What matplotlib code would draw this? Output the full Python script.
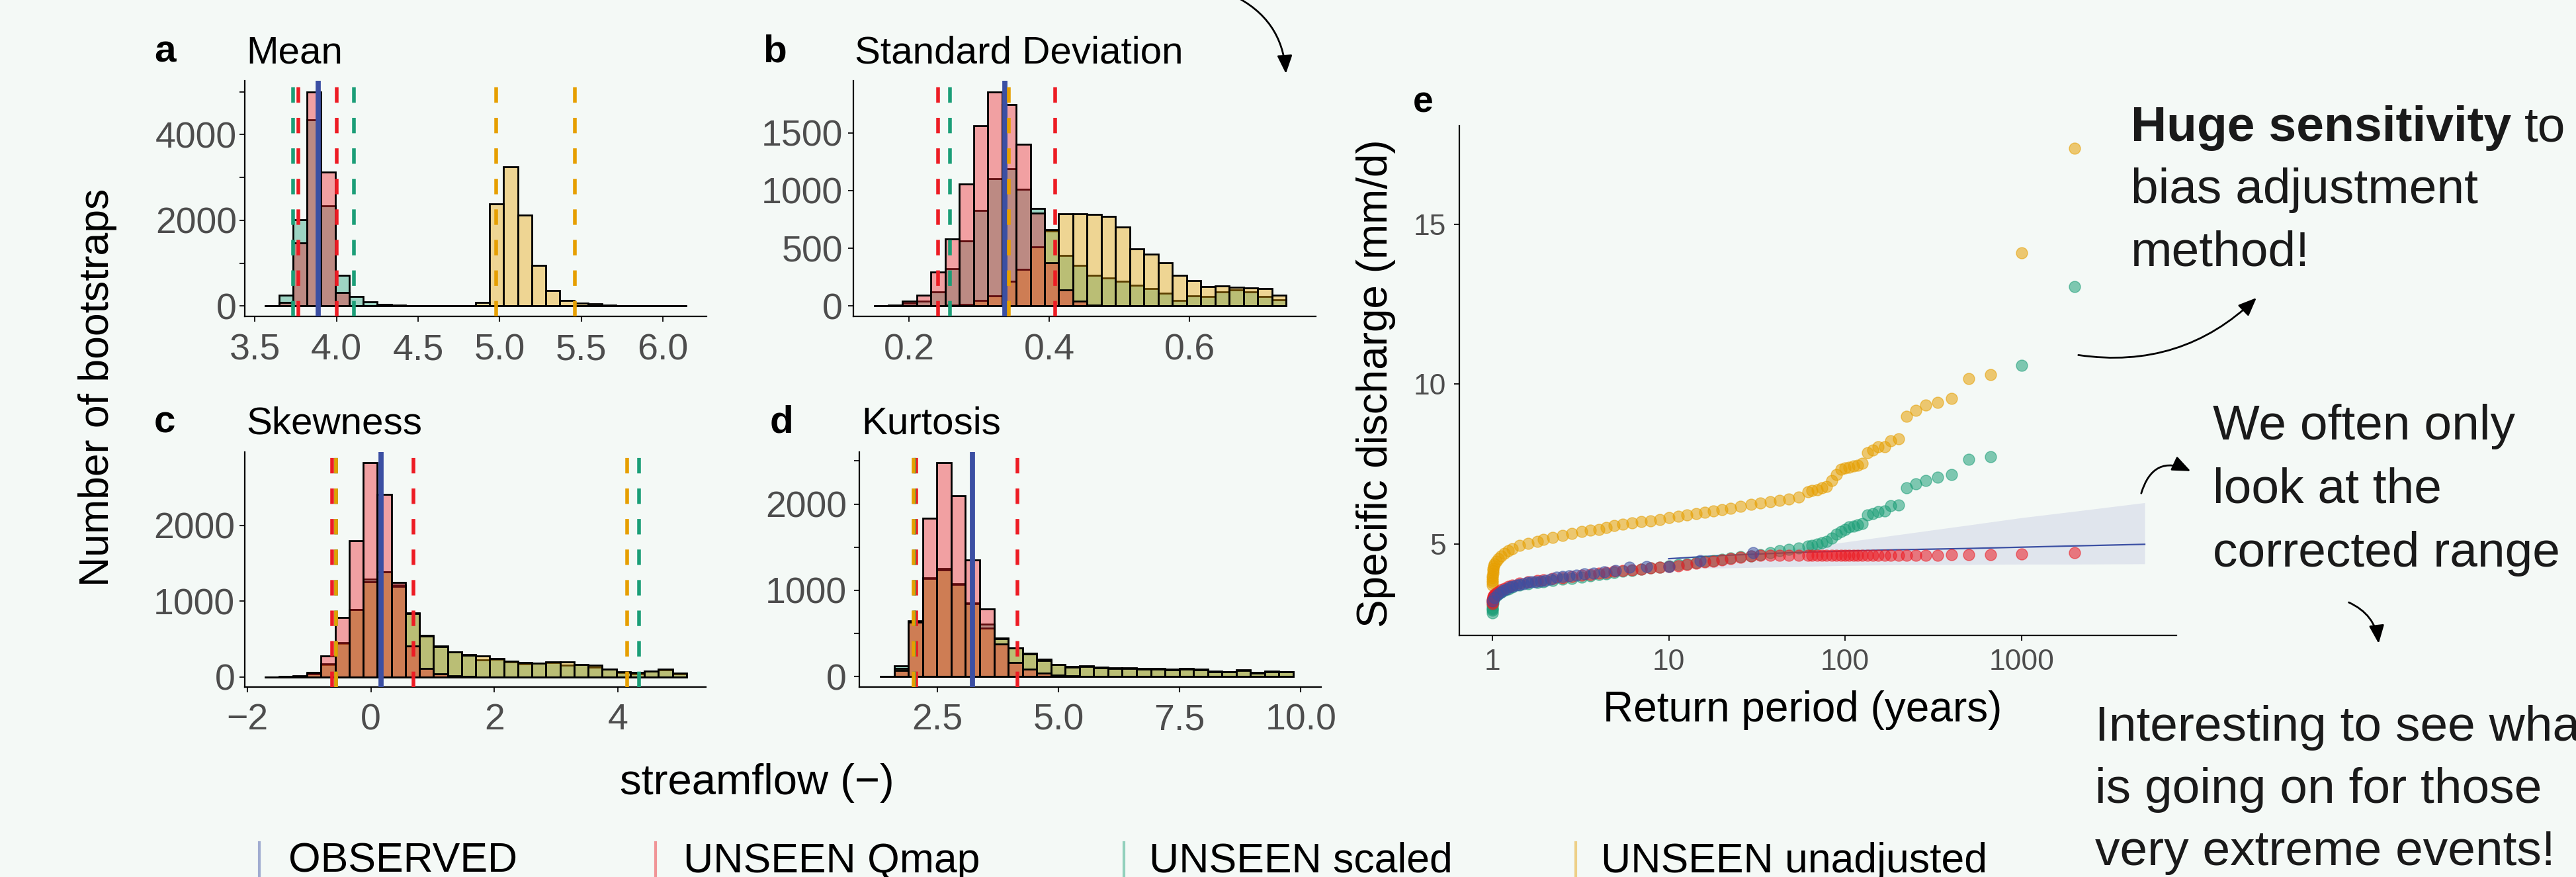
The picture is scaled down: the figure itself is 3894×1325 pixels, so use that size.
import numpy as np
import matplotlib
matplotlib.use('Agg')
import matplotlib.pyplot as plt
from matplotlib.colors import to_rgba
from matplotlib.lines import Line2D
from matplotlib.patches import FancyArrowPatch
from matplotlib.ticker import NullLocator

plt.rcParams['font.family'] = ['Liberation Sans', 'DejaVu Sans']

W, H = 3894, 1325
BG = '#f4f9f6'
GREY = '#4d4d4d'

C_OBS = '#3b4fa3'
C_QMAP = '#ed1c24'
C_SCALED = '#1b9e77'
C_UNADJ = '#e69f00'

# ---------------- histogram data (bootstrap counts per bin) ----------------
# a: mean
mean_start, mean_width = 3.561, 0.0861
mean_qmap = [0, 77, 1473, 4990, 3120, 309] + [0] * 24
mean_scaled = [0, 247, 2013, 4341, 2333, 721, 221, 98, 36, 15, 5] + [0] * 19
mean_unadj = [0] * 15 + [82, 2384, 3244, 2127, 942, 366, 134, 67, 46, 26, 10, 5, 3, 2, 1]
mean_obs = 3.887
mean_ci_qmap = [3.768, 4.001]
mean_ci_scaled = [3.734, 4.107]
mean_ci_unadj = [4.980, 5.461]

# b: standard deviation
sd_start, sd_width = 0.1503, 0.02024
sd_qmap = [0, 5, 40, 95, 296, 578, 1055, 1561, 1853, 1742, 1402, 803, 372, 139, 40, 10] + [0] * 13
sd_scaled = [0, 0, 25, 40, 120, 324, 563, 826, 1103, 1189, 1013, 845, 648, 435, 349, 267,
             240, 212, 177, 149, 111, 50, 86, 82, 124, 139, 124, 82, 53]
sd_unadj = [0, 0, 0, 0, 0, 5, 15, 50, 86, 216, 315, 511, 660, 798, 798, 792,
            775, 683, 492, 448, 372, 263, 219, 168, 174, 164, 158, 149, 95]
sd_obs = 0.3366
sd_ci_qmap = [0.2411, 0.4080]
sd_ci_scaled = [0.2584]
sd_ci_unadj = [0.3419]

# c: skewness
sk_start, sk_width = -1.717, 0.2276
sk_qmap = [0, 5, 15, 58, 282, 786, 1796, 2830, 2407, 1245, 408, 116, 44, 15, 5] + [0] * 15
sk_scaled = [0, 3, 10, 40, 170, 445, 895, 1290, 1385, 1210, 844, 553, 408, 335, 297,
             224, 238, 205, 175, 180, 195, 160, 165, 131, 105, 60, 45, 75, 100, 48]
sk_unadj = [0, 3, 10, 45, 175, 451, 888, 1260, 1391, 1200, 835, 545, 400, 330, 285,
            277, 242, 212, 195, 183, 198, 204, 169, 154, 108, 67, 58, 79, 102, 50]
sk_obs = 0.162
sk_ci_qmap = [-0.624, 0.693]
sk_ci_scaled = [-0.56, 4.338]
sk_ci_unadj = [-0.561, 4.150]

# d: kurtosis
ku_start, ku_width = 1.314, 0.2942
ku_qmap = [0, 72, 630, 1835, 2482, 2098, 1355, 787, 378, 166, 84, 38, 20, 8, 3] + [0] * 14
ku_scaled = [0, 123, 647, 1145, 1250, 1076, 856, 608, 447, 335, 271, 199, 143, 118, 128,
             110, 102, 102, 97, 92, 84, 97, 84, 64, 59, 77, 46, 64, 59]
ku_unadj = [0, 95, 640, 1140, 1235, 1070, 850, 562, 440, 330, 265, 190, 138, 110, 120,
            104, 96, 98, 90, 88, 78, 90, 80, 60, 55, 70, 42, 60, 55]
ku_obs = 3.221
ku_ci_qmap = [2.06, 4.155]
ku_ci_scaled = [2.016]
ku_ci_unadj = [2.01]

# ---------------- return period data (panel e) ----------------
rp_ens = [1.0005, 1.001, 1.0015, 1.002, 1.003, 1.005, 1.008, 1.012, 1.02, 1.03,
          1.05, 1.08, 1.12, 1.17, 1.23, 1.3, 1.43, 1.6, 1.8, 1.95,
          2.2, 2.5, 2.82, 3.2, 3.6, 4.0, 4.4, 4.91, 5.5, 6.2,
          7.0, 7.9, 8.9, 10, 11.3, 12.7, 14.3, 16, 17.9, 20,
          22.5, 25.5, 29.4, 33, 37.5, 42.5, 48, 54.4, 61.5, 65,
          69.6, 74, 78.7, 83.7, 89.1, 94.8, 100, 105.5, 111.4, 118,
          125.3, 133.7, 143.2, 154.2, 167, 182, 200.5, 223, 251, 286,
          334, 401, 501, 668, 1002, 2005]
q_unadj = [3.72, 3.80, 3.88, 3.95, 4.02, 4.10, 4.18, 4.25, 4.32, 4.38,
           4.48, 4.56, 4.64, 4.71, 4.80, 4.86, 4.96, 5.03, 5.10, 5.16,
           5.22, 5.28, 5.34, 5.40, 5.44, 5.47, 5.52, 5.58, 5.62, 5.66,
           5.70, 5.74, 5.78, 5.83, 5.87, 5.91, 5.96, 6.00, 6.05, 6.09,
           6.13, 6.18, 6.24, 6.29, 6.33, 6.37, 6.42, 6.48, 6.64, 6.68,
           6.70, 6.76, 6.80, 7.00, 7.18, 7.34, 7.38, 7.40, 7.45, 7.47,
           7.53, 7.85, 7.94, 8.04, 8.05, 8.24, 8.30, 9.00, 9.18, 9.34,
           9.44, 9.55, 10.18, 10.30, 14.11, 17.37]
q_scaled = [2.86, 2.95, 2.99, 3.03, 3.10, 3.17, 3.22, 3.27, 3.31, 3.35,
            3.40, 3.45, 3.50, 3.56, 3.61, 3.66, 3.72, 3.77, 3.81, 3.83,
            3.87, 3.91, 3.94, 3.98, 4.02, 4.05, 4.08, 4.12, 4.15, 4.19,
            4.22, 4.26, 4.29, 4.32, 4.36, 4.39, 4.43, 4.47, 4.50, 4.53,
            4.57, 4.61, 4.64, 4.68, 4.73, 4.80, 4.84, 4.88, 4.94, 4.97,
            5.00, 5.04, 5.10, 5.20, 5.31, 5.40, 5.47, 5.54, 5.57, 5.61,
            5.65, 5.92, 5.96, 6.01, 6.05, 6.20, 6.23, 6.76, 6.89, 7.00,
            7.10, 7.17, 7.65, 7.74, 10.59, 13.04]
q_qmap = [3.15, 3.19, 3.22, 3.25, 3.28, 3.31, 3.34, 3.37, 3.40, 3.43,
          3.47, 3.52, 3.58, 3.63, 3.68, 3.72, 3.78, 3.83, 3.87, 3.89,
          3.93, 3.96, 4.00, 4.03, 4.06, 4.09, 4.12, 4.15, 4.18, 4.21,
          4.23, 4.26, 4.28, 4.30, 4.33, 4.36, 4.40, 4.44, 4.47, 4.52,
          4.56, 4.60, 4.63, 4.66, 4.66, 4.66, 4.66, 4.66, 4.66, 4.66,
          4.66, 4.66, 4.66, 4.66, 4.66, 4.66, 4.66, 4.66, 4.66, 4.66,
          4.66, 4.66, 4.66, 4.66, 4.66, 4.66, 4.66, 4.66, 4.66, 4.66,
          4.66, 4.67, 4.67, 4.67, 4.70, 4.73]
rp_obs = [30, 15, 10, 7.5, 6, 5, 4.29, 3.75, 3.33, 3, 2.73, 2.5, 2.31, 2.14, 2,
          1.875, 1.76, 1.67, 1.58, 1.5, 1.43, 1.36, 1.30, 1.25, 1.2, 1.15, 1.11, 1.07, 1.03, 1.0]
q_obs = [4.73, 4.50, 4.31, 4.30, 4.28, 4.19, 4.14, 4.10, 4.07, 4.04, 4.01, 3.99, 3.97, 3.92, 3.88,
         3.86, 3.83, 3.82, 3.80, 3.77, 3.75, 3.72, 3.69, 3.67, 3.61, 3.56, 3.50, 3.43, 3.34, 3.23]
fit_rp = [10, 20, 50, 100, 200, 500, 1000, 2000, 5000]
fit_q = [4.55, 4.65, 4.74, 4.79, 4.83, 4.87, 4.91, 4.95, 5.00]
fit_lo = [4.25, 4.26, 4.30, 4.34, 4.36, 4.37, 4.38, 4.38, 4.39]
fit_hi = [4.50, 4.62, 4.85, 5.07, 5.30, 5.60, 5.83, 6.03, 6.30]

legend_labels = ['OBSERVED', 'UNSEEN Qmap', 'UNSEEN scaled', 'UNSEEN unadjusted']
legend_colors = [C_OBS, C_QMAP, C_SCALED, C_UNADJ]


def fx(x):
    return x / W


def fy(y):
    return 1 - y / H


def add_panel(left, top, right, bottom):
    ax = fig.add_axes([fx(left), fy(bottom), (right - left) / W, (bottom - top) / H])
    ax.set_facecolor('none')
    for s in ['top', 'right']:
        ax.spines[s].set_visible(False)
    for s in ['left', 'bottom']:
        ax.spines[s].set_linewidth(1.6)
    ax.tick_params(direction='out', length=5.6, width=1.5, color='#222222',
                   labelsize=40, labelcolor=GREY)
    return ax


def hist_panel(ax, start, width, qmap, scaled, unadj, obs, ci_q, ci_s, ci_u):
    edges = start + width * np.arange(len(qmap))
    for counts, col in [(scaled, C_SCALED), (unadj, C_UNADJ), (qmap, C_QMAP)]:
        ax.bar(edges, counts, width=width, align='edge', facecolor=to_rgba(col, 0.4),
               edgecolor='black', linewidth=2.0, zorder=2)
    ax.axvline(obs, color=C_OBS, lw=5.6, zorder=3)
    for vals, col in [(ci_q, C_QMAP), (ci_s, C_SCALED), (ci_u, C_UNADJ)]:
        for v in vals:
            ax.axvline(v, color=col, lw=4, linestyle=(0, (4.2, 4.1)), zorder=4)


fig = plt.figure(figsize=(W / 100, H / 100), dpi=100, facecolor=BG)

# panel a
ax_a = add_panel(370, 122, 1068, 478)
hist_panel(ax_a, mean_start, mean_width, mean_qmap, mean_scaled, mean_unadj,
           mean_obs, mean_ci_qmap, mean_ci_scaled, mean_ci_unadj)
ax_a.set_xlim(3.438, 6.267)
ax_a.set_ylim(-241, 5258)
ax_a.set_xticks([3.5, 4.0, 4.5, 5.0, 5.5, 6.0], ['3.5', '4.0', '4.5', '5.0', '5.5', '6.0'])
ax_a.set_yticks([0, 1000, 2000, 3000, 4000, 5000], ['0', '', '2000', '', '4000', ''])
ax_a.tick_params(axis='x', pad=13)
ax_a.tick_params(axis='y', pad=3)

# panel b
ax_b = add_panel(1290, 122, 1989, 478)
hist_panel(ax_b, sd_start, sd_width, sd_qmap, sd_scaled, sd_unadj,
           sd_obs, sd_ci_qmap, sd_ci_scaled, sd_ci_unadj)
ax_b.set_xlim(0.1209, 0.7795)
ax_b.set_ylim(-90, 1951)
ax_b.set_xticks([0.2, 0.4, 0.6], ['0.2', '0.4', '0.6'])
ax_b.set_yticks([0, 500, 1000, 1500], ['0', '500', '1000', '1500'])
ax_b.tick_params(axis='x', pad=13)
ax_b.tick_params(axis='y', pad=6)

# panel c
ax_c = add_panel(370, 683, 1067, 1038)
hist_panel(ax_c, sk_start, sk_width, sk_qmap, sk_scaled, sk_unadj,
           sk_obs, sk_ci_qmap, sk_ci_scaled, sk_ci_unadj)
ax_c.set_xlim(-2.042, 5.423)
ax_c.set_ylim(-131, 2969)
ax_c.set_xticks([-2, 0, 2, 4], ['\u22122', '0', '2', '4'])
ax_c.set_yticks([0, 1000, 2000], ['0', '1000', '2000'])
ax_c.tick_params(axis='x', pad=12)
ax_c.tick_params(axis='y', pad=5)

# panel d
ax_d = add_panel(1299, 683, 1997, 1038)
hist_panel(ax_d, ku_start, ku_width, ku_qmap, ku_scaled, ku_unadj,
           ku_obs, ku_ci_qmap, ku_ci_scaled, ku_ci_unadj)
ax_d.set_xlim(0.888, 10.42)
ax_d.set_ylim(-120, 2603)
ax_d.set_xticks([2.5, 5.0, 7.5, 10.0], ['2.5', '5.0', '7.5', '10.0'])
ax_d.set_yticks([0, 500, 1000, 1500, 2000, 2500], ['0', '', '1000', '', '2000', ''])
ax_d.tick_params(axis='x', pad=12)
ax_d.tick_params(axis='y', pad=8)

# panel tags and titles
for tag, title, xt, xtitle, yb in [('a', 'Mean', 249, 372, 96),
                                   ('b', 'Standard Deviation', 1171, 1292, 96),
                                   ('c', 'Skewness', 249, 372, 656),
                                   ('d', 'Kurtosis', 1181, 1302, 656)]:
    fig.text(fx(xt), fy(yb - 2), tag, fontsize=42, fontweight='bold', ha='center', va='baseline')
    fig.text(fx(xtitle), fy(yb), title, fontsize=42, ha='left', va='baseline')

fig.text(fx(148), fy(585), 'Number of bootstraps', fontsize=45, rotation=90, ha='center', va='center')
fig.text(fx(937), fy(1200), 'streamflow (\u2212)', fontsize=47, ha='left', va='baseline')

# panel e
ax_e = add_panel(2206, 190, 3290, 960)
ax_e.set_xscale('log')
ax_e.fill_between(fit_rp, fit_lo, fit_hi, color='#e0e5ed', lw=0, zorder=1)
ax_e.plot(fit_rp, fit_q, color=C_OBS, lw=1.6, zorder=2)
for rp, q, col in [(rp_ens, q_unadj, C_UNADJ), (rp_ens, q_scaled, C_SCALED),
                   (rp_ens, q_qmap, C_QMAP), (rp_obs, q_obs, C_OBS)]:
    ax_e.scatter(rp, q, s=150, color=col, alpha=0.55, edgecolors=col, linewidths=1, zorder=3)
ax_e.set_xlim(0.649, 7568)
ax_e.set_ylim(2.155, 18.07)
ax_e.set_xticks([1, 10, 100, 1000], ['1', '10', '100', '1000'])
ax_e.xaxis.set_minor_locator(NullLocator())
ax_e.set_yticks([5, 10, 15], ['5', '10', '15'])
ax_e.tick_params(labelsize=32, pad=9)
fig.text(fx(2151), fy(169), 'e', fontsize=40, fontweight='bold', ha='center', va='baseline')
fig.text(fx(2080), fy(579), 'Specific discharge (mm/d)', fontsize=46, rotation=90, ha='center', va='center')
fig.text(fx(2725), fy(1090), 'Return period (years)', fontsize=46, ha='center', va='baseline')

# legend
for label, col, xk, xt in zip(legend_labels, legend_colors, [392, 991, 1699, 2382], [436, 1033, 1737, 2420]):
    fig.add_artist(Line2D([fx(xk), fx(xk)], [fy(1273), fy(1326)], color=col, alpha=0.45, lw=3))
    fig.text(fx(xt), fy(1318), label, fontsize=45, ha='left', va='baseline')

# annotations
t_bold = fig.text(fx(3221), fy(213), 'Huge sensitivity', fontsize=54, fontweight='bold',
                  ha='left', va='baseline', color='#1a1a1a')
fig.canvas.draw()
bb = t_bold.get_window_extent()
fig.text(fx(bb.x1 + 20), fy(213), 'to', fontsize=54, ha='left', va='baseline', color='#1a1a1a')
for i, line in enumerate(['bias adjustment', 'method!']):
    fig.text(fx(3221), fy(307 + 94 * i), line, fontsize=54, ha='left', va='baseline', color='#1a1a1a')
for i, line in enumerate(['We often only', 'look at the', 'corrected range']):
    fig.text(fx(3345), fy(664 + 96 * i), line, fontsize=54, ha='left', va='baseline', color='#1a1a1a')
for i, line in enumerate(['Interesting to see what', 'is going on for those', 'very extreme events!']):
    fig.text(fx(3167), fy(1119 + 94 * i), line, fontsize=54, ha='left', va='baseline', color='#1a1a1a')

for (x0, y0), (x1, y1), rad in [((1862, -8), (1944, 114), -0.3),
                                ((3139, 536), (3413, 448), 0.25),
                                ((3236, 748), (3314, 713), -0.6),
                                ((3548, 909), (3596, 975), -0.3)]:
    fig.add_artist(FancyArrowPatch((fx(x0), fy(y0)), (fx(x1), fy(y1)), transform=fig.transFigure,
                                   connectionstyle=f'arc3,rad={rad}',
                                   arrowstyle='-|>,head_length=0.6,head_width=0.25',
                                   mutation_scale=28, lw=2, color='black'))

fig.savefig('out.png', dpi=100, facecolor=BG)
